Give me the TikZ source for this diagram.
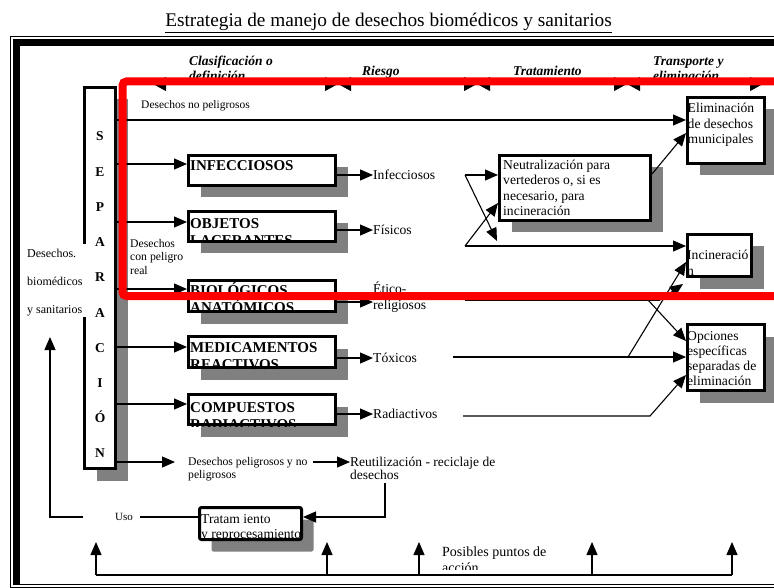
\documentclass[tikz,border=0pt]{standalone}
\usepackage{fontspec}
\setmainfont{Liberation Serif}
\usetikzlibrary{arrows.meta,shadows}
\definecolor{shgray}{RGB}{128,128,128}
\newcommand\fsz[2]{\fontsize{#1}{#2}\selectfont}
\newcommand\boxtext[6]{%
  \begin{scope}
    \clip (#1.south west) rectangle (#1.north east);
    \foreach \lineT [count=\k from 0] in {#6}{%
      \node[lbl,font={#2}] (#1t\k) at ([xshift=#3pt,yshift={-(#4+\k*#5)*1pt}]#1.north west) {\lineT};}
  \end{scope}}
\begin{document}
\begin{tikzpicture}[x=1pt,y=-1pt,
  conn/.style={line width=1.1pt},
  arr/.style={conn,-{Triangle[length=13pt,width=11pt]}},
  hdr/.style={line width=1pt,{Triangle[length=13pt,width=14pt]}-{Triangle[length=13pt,width=14pt]}},
  wbox/.style={draw,line width=3pt,fill=white,inner sep=0pt,general shadow={fill=shgray,draw=none,shadow xshift=12pt,shadow yshift=-12pt}},
  lbl/.style={anchor=base west,inner sep=0pt},
  smalltxt/.style={lbl,font={\fsz{11.7}{14}}},
  midtxt/.style={lbl,font={\fsz{13.6}{15.5}}},
  headtxt/.style={lbl,font={\fsz{13.5}{15}\bfseries\itshape}}]
\useasboundingbox (0,0) rectangle (774,588);

% frame
\draw[line width=0.8pt] (800,36) -- (10,36) -- (10,587.5) -- (800,587.5);
\draw[line width=7pt] (16.5,585) -- (16.5,42.5) -- (800,42.5);
\draw[line width=1.6pt] (13,584.5) -- (800,584.5);

% title
\node[anchor=base,inner sep=0pt,font={\fsz{19.3}{22}}] (title) at (388.5,27) {\underline{Estrategia de manejo de desechos biomédicos y sanitarios}};

% header
\node[headtxt] (h1a) at (189,66) {Clasificación o};
\node[headtxt] (h1b) at (189,81) {definición};
\node[headtxt] (h2) at (362,76) {Riesgo};
\node[headtxt] (h3) at (513,76) {Tratamiento};
\node[headtxt] (h4a) at (653,66) {Transporte y};
\node[headtxt] (h4b) at (653,81) {eliminación};
\coordinate (a0) at (153,84);
\coordinate (a1) at (338,84);
\coordinate (a2) at (477,84);
\coordinate (a3) at (627,84);
\coordinate (a4) at (763,84);
\draw[hdr] (a0) -- (a1);
\draw[hdr] (a1) -- (a2);
\draw[hdr] (a2) -- (a3);
\draw[hdr] (a3) -- (a4);

% boxes
\node[wbox,minimum width=31pt,minimum height=381pt] (sep) at (100,278) {};
\node[wbox,minimum width=147pt,minimum height=30pt] (inf) at (262,170.5) {};
\node[wbox,minimum width=147pt,minimum height=30pt] (obj) at (262,226.5) {};
\node[wbox,minimum width=147pt,minimum height=31pt] (bio) at (262,296) {};
\node[wbox,minimum width=147pt,minimum height=31pt] (med) at (262,352) {};
\node[wbox,minimum width=147pt,minimum height=30pt] (com) at (262,409.5) {};
\node[wbox,minimum width=151pt,minimum height=65pt] (neut) at (575,188) {};
\node[wbox,minimum width=77pt,minimum height=66pt] (elim) at (726,130.5) {};
\node[wbox,minimum width=64pt,minimum height=42pt] (inc) at (719.5,255.5) {};
\node[wbox,minimum width=77pt,minimum height=66pt] (opc) at (726,357.5) {};
\node[wbox,rounded corners=2pt,minimum width=102pt,minimum height=32pt] (trat) at (250.5,523.5) {};

\boxtext{inf}{\fsz{15}{17}\bfseries}{3}{17}{17}{INFECCIOSOS}
\boxtext{obj}{\fsz{15}{17}\bfseries}{3}{19}{17}{OBJETOS,LACERANTES}
\boxtext{bio}{\fsz{15}{17}\bfseries}{3}{16.5}{17}{BIOLÓGICOS,ANATÓMICOS}
\boxtext{med}{\fsz{15}{17}\bfseries}{3}{17}{17}{MEDICAMENTOS,REACTIVOS}
\boxtext{com}{\fsz{15}{17}\bfseries}{3}{19}{17}{COMPUESTOS,RADIACTIVOS}
\boxtext{neut}{\fsz{13.6}{15.5}}{5}{15.5}{15.5}{Neutralización para,{vertederos o, si es},{necesario, para},incineración}
\boxtext{elim}{\fsz{13.6}{15.5}}{1.5}{17}{15.5}{Eliminación,de desechos,municipales}
\boxtext{inc}{\fsz{13.6}{15.5}}{1}{27}{16}{Incineració,n}
\boxtext{opc}{\fsz{13.6}{15.5}}{1}{17}{15.3}{Opciones,específicas,separadas de,eliminación}
\boxtext{trat}{\fsz{13.6}{15.5}}{3}{17}{15.5}{Tratam iento,y reprocesamiento}

% SEPARACION letters
\foreach \ch [count=\k from 0] in {S,E,P,A,R,A,C,I,Ó,N}
  \node[anchor=base,inner sep=0pt,font={\fsz{13.5}{16}\bfseries}] (sl\k) at (100,{141+\k*35.2}) {\ch};

% left label
\fill[white] (24,244) rectangle (87,317);
\node[lbl,font={\fsz{12}{14}}] (dbs1) at (27,258) {Desechos.};
\node[lbl,font={\fsz{12}{14}}] (dbs2) at (27,286) {biomédicos};
\node[lbl,font={\fsz{12}{14}}] (dbs3) at (27,313) {y sanitarios};

% labels
\node[lbl,font={\fsz{11.5}{13}}] (dnp) at (141,109) {Desechos no peligrosos};
\node[smalltxt] (dpr1) at (130,248) {Desechos};
\node[smalltxt] (dpr2) at (130,261) {con peligro};
\node[smalltxt] (dpr3) at (130,274) {real};
\node[midtxt] (linf) at (373,179.5) {Infecciosos};
\node[midtxt] (lfis) at (373,234.5) {Físicos};
\node[midtxt] (let1) at (373,293) {Ético-};
\node[midtxt] (let2) at (373,309) {religiosos};
\node[midtxt] (ltox) at (373,362.5) {Tóxicos};
\node[midtxt] (lrad) at (373,418.5) {Radiactivos};
\node[smalltxt] (dpn1) at (188,465) {Desechos peligrosos y no};
\node[smalltxt] (dpn2) at (188,478) {peligrosos};
\node[lbl,font={\fsz{13.5}{13}}] (reu1) at (350,466) {Reutilización - reciclaje de};
\node[lbl,font={\fsz{13.5}{13}}] (reu2) at (350,479) {desechos};
\node[lbl,font={\fsz{11}{13}}] (uso) at (115,520) {Uso};
\node[lbl,font={\fsz{14}{16}}] (pos1) at (442,556) {Posibles puntos de};
\begin{scope}
  \clip (430,560) rectangle (560,569.5);
  \node[lbl,font={\fsz{14}{16}}] (pos2) at (442,572) {acción};
\end{scope}

% connectors: separation to categories
\draw[arr] (sep.east |- 0,120) -- (elim.west |- 0,120);
\foreach \b/\yy in {inf/164,obj/222,bio/289,med/347,com/404}
  \draw[arr] (sep.east |- 0,\yy) -- (\b.west |- 0,\yy);
\draw[arr] (inf.east |- 0,175) -- (linf.west |- 0,175);
\draw[arr] (obj.east |- 0,230) -- (lfis.west |- 0,230);
\draw[arr] (bio.east |- 0,302) -- (let2.west |- 0,302);
\draw[arr] (med.east |- 0,358) -- (ltox.west |- 0,358);
\draw[arr] (com.east |- 0,414) -- (lrad.west |- 0,414);

% treatment network
\coordinate (i1) at (465,175);
\coordinate (f1) at (465,246);
\coordinate (c1) at (497,241);
\coordinate (n2) at (neut.west |- 0,203);
\draw[arr] (i1) -- (neut.west |- i1);
\draw[arr] (i1) -- (c1);
\draw[arr] (f1) -- (inc.west |- f1);
\draw[arr] (f1) -- (n2);
\coordinate (ne) at (neut.east |- 0,174);
\coordinate (ew) at (elim.west |- 0,133);
\draw[arr] (ne) -- (ew);

\coordinate (e1) at (465,300);
\coordinate (e2) at (648,300);
\coordinate (e3) at (660,300);
\coordinate (ie) at ([shift={(-3pt,-6pt)}]inc.south west);
\draw[conn] (e1) -- (e3);
\draw[arr] (e2) -- (opc.west |- 0,341);
\draw[arr] (e3) -- (ie);

\coordinate (t1) at (453,357);
\coordinate (t2) at (628,357);
\draw[arr] (t1) -- (opc.west |- t1);
\draw[arr] (t2) -- (inc.west |- 0,262);

\coordinate (ra1) at (463,416);
\coordinate (ra2) at (650,416);
\draw[arr] (ra1) -- (ra2) -- (opc.west |- 0,375);

% lower loop
\coordinate (dp0) at (175,462);
\coordinate (dp1) at (313,462);
\draw[arr] (sep.east |- dp0) -- (dp0);
\draw[arr] (dp1) -- (reu1.west |- dp1);
\coordinate (r1) at (385,483);
\coordinate (te) at (trat.east |- 0,517);
\draw[arr] (r1) |- (te);
\coordinate (u0) at (140,517);
\coordinate (u1) at (83,517);
\coordinate (u2) at (50,517);
\coordinate (u3) at (50,337);
\draw[conn] (trat.west |- u0) -- (u0);
\draw[arr] (u1) -- (u2) -- (u3);

% bottom action points
\foreach \xx [count=\k] in {96,327,419,592,732}{
  \coordinate (b\k) at (\xx,575);
  \coordinate (bt\k) at (\xx,542);
  \draw[arr] (b\k) -- (bt\k);}
\draw[conn] (b1) -- (b5);

% red highlight
\draw[red,line width=8pt,rounded corners=4pt] (122.5,81.5) rectangle (820,296);
\end{tikzpicture}
\end{document}
